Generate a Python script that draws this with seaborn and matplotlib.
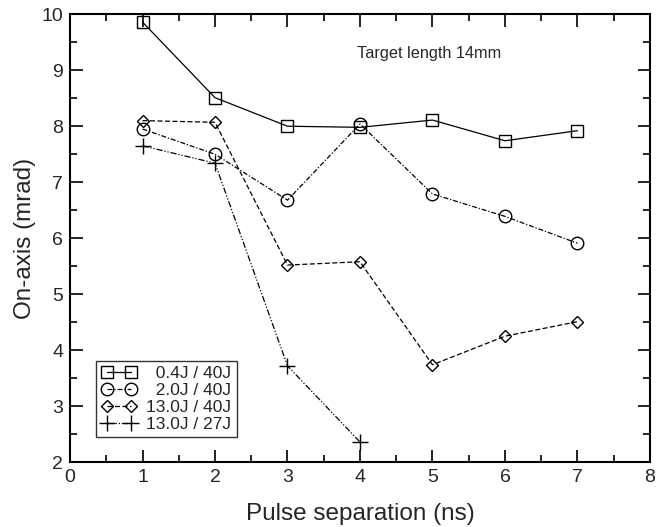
import numpy as np
import pandas as pd
import matplotlib
matplotlib.use("Agg")
import matplotlib.pyplot as plt
import seaborn as sns
from matplotlib.ticker import MultipleLocator

# data
sep = [1, 2, 3, 4, 5, 6, 7]
sq_04_40 = [9.86, 8.51, 8.00, 7.98, 8.11, 7.74, 7.92]
ci_20_40 = [7.95, 7.50, 6.68, 8.04, 6.79, 6.39, 5.91]
di_130_40 = [8.10, 8.07, 5.52, 5.58, 3.74, 4.25, 4.51]
sep_27 = [1, 2, 3, 4]
pl_130_27 = [7.65, 7.34, 3.72, 2.36]

labels = ["  0.4J / 40J", "  2.0J / 40J", "13.0J / 40J", "13.0J / 27J"]

sns.set_style("ticks")
plt.rcParams["font.family"] = ["Liberation Sans", "DejaVu Sans"]

fig = plt.figure(figsize=(6.68, 5.27), dpi=100)
ax = fig.add_axes([0.1048, 0.123, 0.8682, 0.850])

styles = [
    (sep, sq_04_40, "s", "-", 8),
    (sep, ci_20_40, "o", (0, (4, 1.5, 1, 1.5)), 9),
    (sep, di_130_40, "D", (0, (4, 2)), 6),
    (sep_27, pl_130_27, "+", (0, (5, 1.5, 1, 1.5, 1, 1.5)), 12),
]
for (xs, ys, mk, ls, ms), lab in zip(styles, labels):
    sns.lineplot(x=xs, y=ys, ax=ax, color="black", linewidth=0.9,
                 linestyle=ls, marker=mk, markersize=ms,
                 markerfacecolor="none", markeredgecolor="black",
                 markeredgewidth=1.0, label=lab)

ax.set_xlim(0, 8)
ax.set_ylim(2, 10)
ax.xaxis.set_major_locator(MultipleLocator(1))
ax.xaxis.set_minor_locator(MultipleLocator(0.5))
ax.yaxis.set_major_locator(MultipleLocator(1))
ax.yaxis.set_minor_locator(MultipleLocator(0.5))
ax.tick_params(which="both", direction="in", top=True, right=True,
               width=1.2, color="black", labelsize=14, pad=5)
ax.tick_params(which="major", length=9)
ax.tick_params(which="minor", length=5)
for s in ax.spines.values():
    s.set_linewidth(1.5)
    s.set_color("black")

ax.set_xlabel("Pulse separation (ns)", fontsize=17.5, labelpad=12)
ax.set_ylabel("On-axis (mrad)", fontsize=17.5, labelpad=4)

ax.text(0.495, 0.913, "Target length 14mm", transform=ax.transAxes,
        fontsize=11.7, va="center", ha="left")

leg = ax.legend(loc="lower left", bbox_to_anchor=(0.045, 0.056),
                numpoints=2, handlelength=2.0, fontsize=12.5, frameon=True,
                fancybox=False, edgecolor="black", borderpad=0.3,
                labelspacing=0.1, handletextpad=0.6, borderaxespad=0)
leg.get_frame().set_linewidth(1.0)

fig.savefig("out.png", dpi=100)
